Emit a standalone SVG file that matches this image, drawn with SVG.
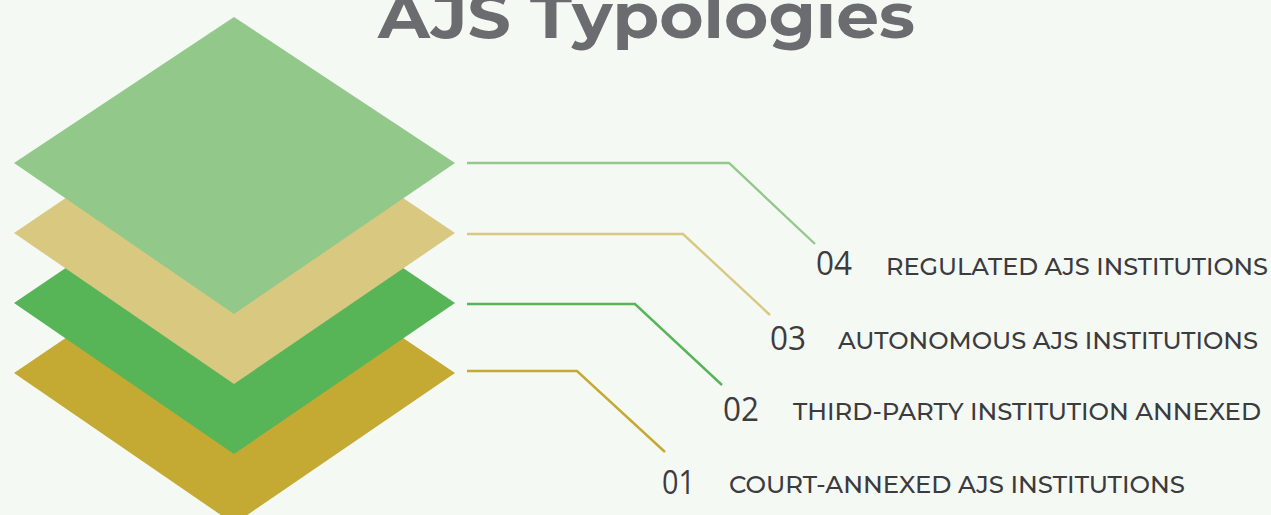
<svg xmlns="http://www.w3.org/2000/svg" width="1271" height="515" viewBox="0 0 1271 515">
<style>
.title{font-family:Montserrat,"Open Sans","Liberation Sans",sans-serif;font-weight:700;font-size:62px;fill:#6B6C70}
.num{font-family:"Open Sans","Noto Sans",sans-serif;font-weight:400;font-size:33px;fill:#3C3C3E}
.lbl{font-family:Montserrat,"Open Sans","Liberation Sans",sans-serif;font-weight:500;font-size:24px;fill:#3B3B40}
.conn{fill:none;stroke-width:2.4}
</style>
<rect width="1271" height="515" fill="#F5F9F4"/>
<text class="title" x="378" y="38" textLength="537" lengthAdjust="spacingAndGlyphs">AJS Typologies</text>
<g id="layer1"><polygon points="14,373 234,224 455,373 234,524" fill="#C4A932"/></g>
<g id="layer2"><polygon points="14,303 234,154 455,303 234,454" fill="#57B558"/></g>
<g id="layer3"><polygon points="14,233 234,84 455,233 234,384" fill="#D9C880"/></g>
<g id="layer4"><polygon points="14,163 234,17 455,163 234,314" fill="#92C98B"/></g>
<g id="connectors">
<polyline class="conn" stroke="#92C98B" points="467,163 729,163 815,244"/>
<polyline class="conn" stroke="#D9C880" points="467,234 683,234 770,315"/>
<polyline class="conn" stroke="#57B558" points="467,304 635,304 722,385"/>
<polyline class="conn" stroke="#C4A932" points="467,371 577,371 665,452"/>
</g>
<g id="label4"><text class="num" x="816" y="275" textLength="36" lengthAdjust="spacingAndGlyphs">04</text><text class="lbl" x="886" y="275" textLength="382" lengthAdjust="spacingAndGlyphs">REGULATED AJS INSTITUTIONS</text></g>
<g id="label3"><text class="num" x="770" y="350" textLength="36" lengthAdjust="spacingAndGlyphs">03</text><text class="lbl" x="838" y="349" textLength="420" lengthAdjust="spacingAndGlyphs">AUTONOMOUS AJS INSTITUTIONS</text></g>
<g id="label2"><text class="num" x="723" y="421" textLength="36" lengthAdjust="spacingAndGlyphs">02</text><text class="lbl" x="793" y="420" textLength="468" lengthAdjust="spacingAndGlyphs">THIRD-PARTY INSTITUTION ANNEXED</text></g>
<g id="label1"><text class="num" x="662" y="494" textLength="33" lengthAdjust="spacingAndGlyphs">01</text><text class="lbl" x="729" y="493" textLength="456" lengthAdjust="spacingAndGlyphs" fill="#48454E">COURT-ANNEXED AJS INSTITUTIONS</text></g>
</svg>
